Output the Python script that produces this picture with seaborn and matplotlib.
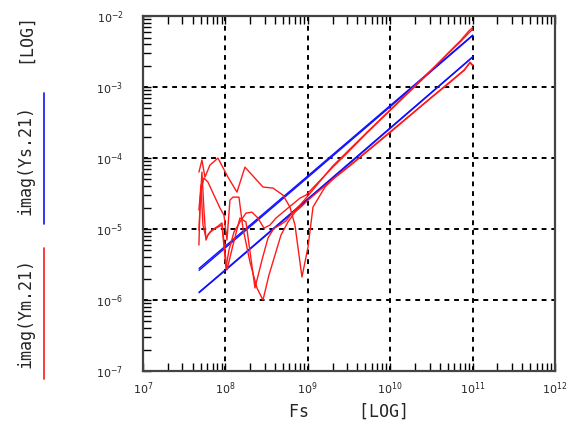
import matplotlib
matplotlib.use("Agg")
import matplotlib.pyplot as plt
from matplotlib.lines import Line2D
import seaborn as sns
import pandas as pd

# ---- data ----
x_ticks = [1e7, 1e8, 1e9, 1e10, 1e11, 1e12]
x_tick_labels = [r"$10^{7}$", r"$10^{8}$", r"$10^{9}$", r"$10^{10}$", r"$10^{11}$", r"$10^{12}$"]
y_ticks = [1e-7, 1e-6, 1e-5, 1e-4, 1e-3, 1e-2]
y_tick_labels = [r"$10^{-7}$", r"$10^{-6}$", r"$10^{-5}$", r"$10^{-4}$", r"$10^{-3}$", r"$10^{-2}$"]

# imag(Ys.21) traces
ys_freq = [4.8e7, 1e8, 1e9, 1e10, 1e11]
ys_a = [2.79e-6, 5.75e-6, 5.6e-5, 5.5e-4, 5.4e-3]
ys_b = [2.62e-6, 5.45e-6, 5.35e-5, 5.3e-4, 5.3e-3]
ys_c = [1.29e-6, 2.67e-6, 2.67e-5, 2.67e-4, 2.67e-3]
ys_d = [1.27e-6, 2.62e-6, 2.6e-5, 2.62e-4, 2.64e-3]

# imag(Ym.21) traces
ym_a_freq = [4.78e7, 5.2e7, 5.65e7, 6.5e7, 8.13e7, 1.076e8, 1.383e8, 1.729e8, 2.86e8, 3.78e8,
             5.0e8, 6.08e8, 6.99e8, 8.5e8, 1.006e9, 1.157e9, 1.617e9, 2.08e9,
             3.16e9, 5e9, 1e10, 2e10, 3.16e10, 5e10, 7.9e10, 9.3e10, 1e11]
ym_a = [6.35e-5, 9.4e-5, 5.39e-5, 7.97e-5, 1.0e-4, 5.39e-5, 3.32e-5, 7.46e-5, 3.91e-5, 3.78e-5,
        3.01e-5, 2.04e-5, 1.14e-5, 2.11e-6, 5.57e-6, 2.04e-5, 3.91e-5, 5.23e-5,
        7.7e-5, 1.2e-4, 2.35e-4, 4.6e-4, 7.2e-4, 1.12e-3, 1.75e-3, 2.2e-3, 2.0e-3]

ym_b_freq = [4.78e7, 4.92e7, 5.2e7, 5.5e7, 5.82e7, 6.15e7, 6.88e7, 8.13e7, 9.09e7, 1.046e8,
             1.237e8, 1.503e8, 1.778e8, 2.287e8, 2.78e8, 3.29e8, 3.89e8, 4.6e8, 5.44e8, 6.61e8,
             8.04e8, 9.51e8, 2e9, 3.16e9, 5e9, 1e10, 2e10, 3.16e10, 5e10, 7.1e10, 9e10, 1e11]
ym_b = [5.95e-6, 2.18e-5, 6.35e-5, 1.85e-5, 7.0e-6, 8.23e-6, 9.68e-6, 1.1e-5, 1.22e-5, 2.65e-6,
        5.95e-6, 1.43e-5, 1.26e-5, 1.48e-6, 3.66e-6, 7.47e-6, 1.03e-5, 1.14e-5, 1.3e-5, 1.73e-5,
        2.18e-5, 2.73e-5, 7.7e-5, 1.3e-4, 2.2e-4, 4.8e-4, 1.05e-3, 1.76e-3, 2.95e-3, 4.35e-3, 5.8e-3, 6.5e-3]

ym_c_freq = [4.78e7, 5.06e7, 5.5e7, 6.15e7, 7.27e7, 8.6e7, 9.62e7, 1.046e8, 1.137e8, 1.237e8,
             1.462e8, 1.635e8, 1.989e8, 2.418e8, 2.86e8, 3.38e8, 4.0e8, 4.73e8, 5.75e8, 6.99e8,
             8.5e8, 1.006e9, 2e9, 3.16e9, 5e9, 1e10, 2e10, 3.16e10, 5e10, 7.9e10, 9.3e10, 1e11]
ym_c = [9.68e-6, 3.54e-5, 5.23e-5, 4.59e-5, 3.01e-5, 1.98e-5, 1.57e-5, 7.0e-6, 2.56e-5, 2.82e-5,
        2.82e-5, 1.03e-5, 3.43e-6, 1.48e-6, 1.0e-6, 2.25e-6, 4.3e-6, 8.23e-6, 1.26e-5, 1.73e-5,
        2.11e-5, 2.56e-5, 5.0e-5, 7.6e-5, 1.18e-4, 2.3e-4, 4.55e-4, 7.1e-4, 1.1e-3, 1.72e-3, 2.25e-3, 2.05e-3]

ym_d_freq = [4.78e7, 5.06e7, 5.35e7, 5.82e7, 6.5e7, 7.69e7, 9.09e7, 1.017e8, 1.106e8, 1.272e8,
             1.503e8, 1.778e8, 2.103e8, 2.487e8, 2.94e8, 3.477e8, 4.112e8, 4.862e8, 5.75e8, 6.8e8,
             8.04e8, 9.51e8, 2e9, 3.16e9, 5e9, 1e10, 2e10, 3.16e10, 5e10, 7.1e10, 9e10, 1e11]
ym_d = [1.85e-5, 4.17e-5, 1.14e-5, 7.47e-6, 9.07e-6, 1.03e-5, 1.14e-5, 2.82e-6, 5.06e-6, 9.07e-6,
        1.26e-5, 1.68e-5, 1.73e-5, 1.43e-5, 1.03e-5, 1.14e-5, 1.43e-5, 1.68e-5, 1.98e-5, 2.32e-5,
        2.73e-5, 3.01e-5, 7.4e-5, 1.25e-4, 2.15e-4, 4.7e-4, 1.02e-3, 1.72e-3, 3.0e-3, 4.5e-3, 6.2e-3, 6.9e-3]

traces = [
    ("Ys", "a", ys_freq, ys_a), ("Ys", "b", ys_freq, ys_b),
    ("Ys", "c", ys_freq, ys_c), ("Ys", "d", ys_freq, ys_d),
    ("Ym", "a", ym_a_freq, ym_a), ("Ym", "b", ym_b_freq, ym_b),
    ("Ym", "c", ym_c_freq, ym_c), ("Ym", "d", ym_d_freq, ym_d),
]
colors = {"Ys": "#1010ff", "Ym": "#ff1a1a"}

# ---- figure ----
sns.set_theme(style="white")
plt.rcParams["font.family"] = ["DejaVu Sans Mono", "DejaVu Sans"]
plt.rcParams["mathtext.fontset"] = "dejavusans"

fig = plt.figure(figsize=(5.74, 4.25), dpi=100)
ax = fig.add_axes([0.249, 0.127, 0.718, 0.835])

for qty, name, f, v in traces:
    df = pd.DataFrame({"Fs": f, "val": v})
    sns.lineplot(data=df, x="Fs", y="val", ax=ax, color=colors[qty],
                 linewidth=1.0, sort=False, estimator=None, legend=False)

ax.set_xscale("log")
ax.set_yscale("log")
ax.set_xlim(1e7, 1e12)
ax.set_ylim(1e-7, 1e-2)

ax.set_xticks(x_ticks)
ax.set_xticklabels(x_tick_labels, fontsize=8)
ax.set_yticks(y_ticks)
ax.set_yticklabels(y_tick_labels, fontsize=8)

ax.grid(True, which="major", color="black", linestyle=(0, (2.5, 2.5)), linewidth=1.4)
ax.tick_params(axis="both", which="both", direction="in", color="black")
ax.tick_params(axis="x", which="both", top=True, bottom=True, pad=7)
ax.tick_params(axis="y", which="both", left=True, right=False, pad=14)
ax.tick_params(which="major", length=6, width=1.0)
ax.tick_params(which="minor", length=5.5, width=1.0)
for s in ax.spines.values():
    s.set_color("#444444")
    s.set_linewidth(1.6)

ax.set_xlabel("Fs     [LOG]", fontsize=12, labelpad=4)
ax.set_ylabel("")

# left-side rotated labels with colour bars
fig.text(0.0436, 0.9106, "[LOG]", rotation=90, ha="center", va="center", fontsize=12)
fig.text(0.0436, 0.6235, "imag(Ys.21)", rotation=90, ha="center", va="center", fontsize=12)
fig.text(0.0436, 0.2635, "imag(Ym.21)", rotation=90, ha="center", va="center", fontsize=12)
fig.add_artist(Line2D([0.0767, 0.0767], [0.4729, 0.7812], transform=fig.transFigure,
                      color=colors["Ys"], linewidth=1.2))
fig.add_artist(Line2D([0.0767, 0.0767], [0.1082, 0.4165], transform=fig.transFigure,
                      color=colors["Ym"], linewidth=1.2))

fig.savefig("out.png", dpi=100)
